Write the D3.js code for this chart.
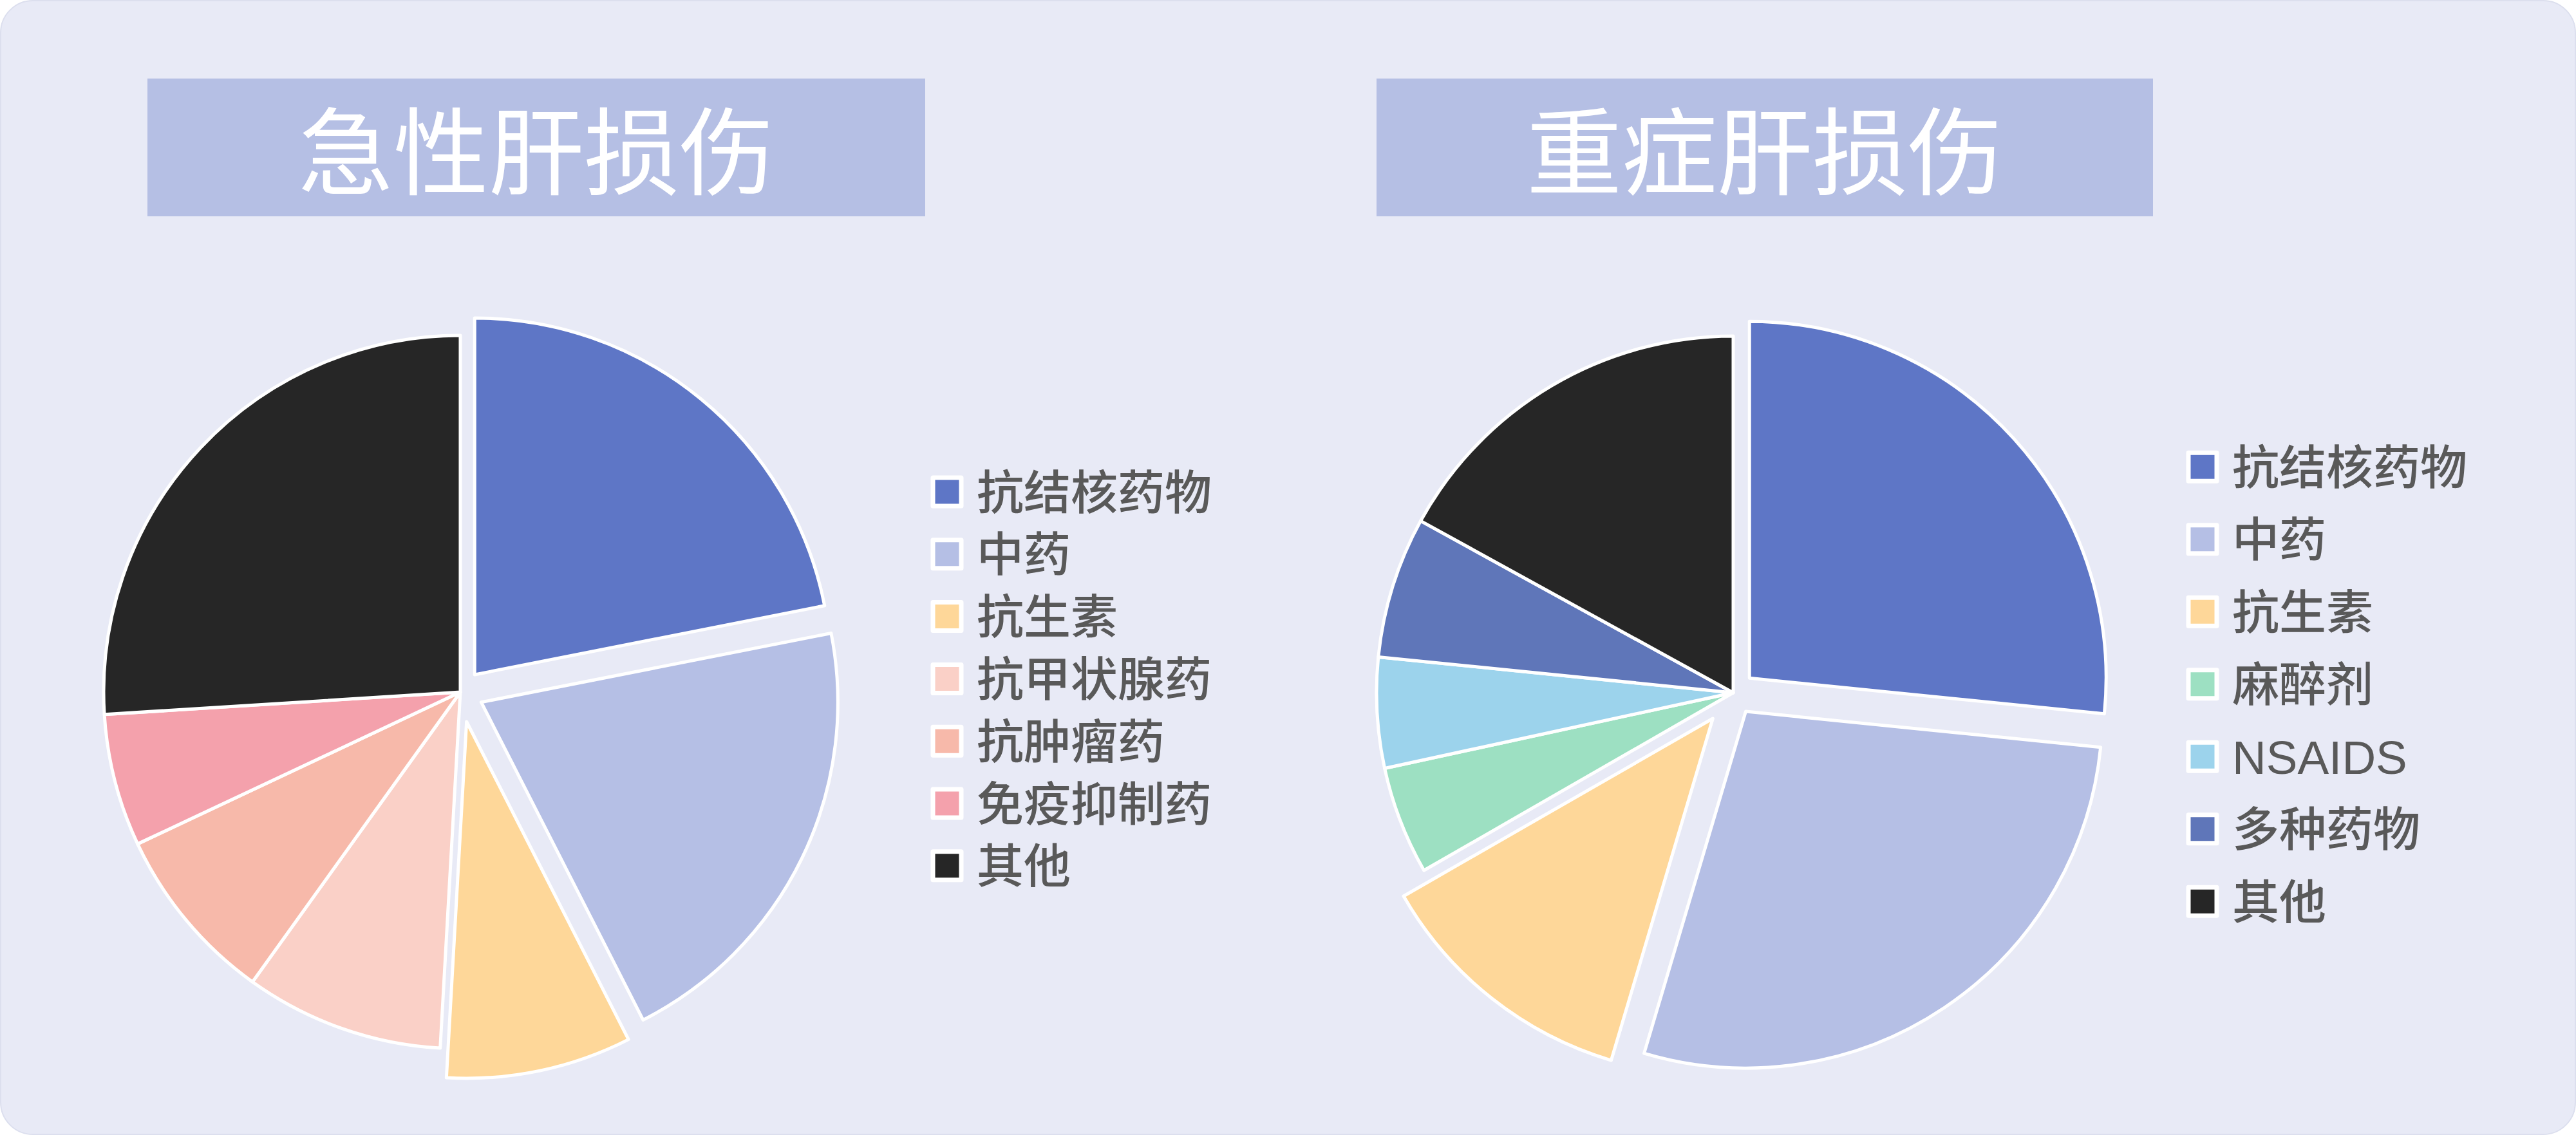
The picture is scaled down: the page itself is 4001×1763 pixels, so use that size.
<!DOCTYPE html>
<html>
<head>
<meta charset="utf-8">
<script src="https://cdn.jsdelivr.net/npm/d3@7"></script>
<style>
  html, body { margin: 0; padding: 0; background: #ffffff; }
  svg { display: block; }
</style>
</head>
<body>
<div id="chart"></div>
<script>
// values, in percent
const acuteTitle = '急性肝损伤'
const acuteCats = ['抗结核药物', '中药', '抗生素', '抗甲状腺药', '抗肿瘤药', '免疫抑制药', '其他']
const acuteVals = [21.9, 20.6, 8.4, 9.0, 8.1, 6.0, 26.0]

const severeTitle = '重症肝损伤'
const severeCats = ['抗结核药物', '中药', '抗生素', '麻醉剂', 'NSAIDS', '多种药物', '其他']
const severeVals = [26.6, 28.0, 12.1, 4.9, 5.0, 6.4, 17.0]

const acuteColors = ['#5e76c6', '#b5bfe5', '#fed799', '#fad0c7', '#f7b9aa', '#f4a1ac', '#262626']
const severeColors = ['#5e76c6', '#b5bfe5', '#fed799', '#9de0c2', '#9cd3ec', '#5f76b9', '#262626']

const w = 4001
const h = 1763
const R = 554

const svg = d3.select('#chart')
              .append('svg')
              .attr('width', w)
              .attr('height', h)

svg.append('rect')
   .attr('x', 1)
   .attr('y', 1)
   .attr('width', w - 2)
   .attr('height', h - 2)
   .attr('rx', 50)
   .attr('fill', '#e8eaf6')
   .attr('stroke', '#dcdfee')
   .attr('stroke-width', 2)

const panels = [
  { title: acuteTitle, cats: acuteCats, vals: acuteVals, colors: acuteColors,
    box: [229, 122, 1208, 214], cx: 715, cy: 1075, pull: [35, 36, 47, 0, 0, 0, 0],
    legX: 1449, legY: 764, legStep: 96.8 },
  { title: severeTitle, cats: severeCats, vals: severeVals, colors: severeColors,
    box: [2138, 122, 1206, 214], cx: 2692, cy: 1076, pull: [34, 35, 51, 0, 0, 0, 0],
    legX: 3399, legY: 725.3, legStep: 112.5 }
]

const pie = d3.pie().sort(null).value(d => d)
const arc = d3.arc().innerRadius(0).outerRadius(R)

panels.forEach(p => {
  const g = svg.append('g')

  // title box
  g.append('rect')
   .attr('x', p.box[0])
   .attr('y', p.box[1])
   .attr('width', p.box[2])
   .attr('height', p.box[3])
   .attr('fill', '#b5bfe4')

  g.append('text')
   .attr('x', p.box[0] + p.box[2] / 2)
   .attr('y', 226)
   .attr('text-anchor', 'middle')
   .attr('dominant-baseline', 'central')
   .attr('fill', '#ffffff')
   .style('font-family', '"Noto Sans CJK SC", sans-serif')
   .style('font-weight', 400)
   .style('font-size', '148px')
   .text(p.title)

  // pie
  const arcs = pie(p.vals)
  g.append('g')
   .attr('transform', 'translate(' + p.cx + ',' + p.cy + ')')
   .selectAll('path')
   .data(arcs)
   .enter()
   .append('path')
   .attr('d', arc)
   .attr('transform', (d, i) => {
     const mid = (d.startAngle + d.endAngle) / 2
     const dx = Math.sin(mid) * p.pull[i]
     const dy = -Math.cos(mid) * p.pull[i]
     return 'translate(' + dx + ',' + dy + ')'
   })
   .attr('fill', (d, i) => p.colors[i])
   .attr('stroke', '#ffffff')
   .attr('stroke-width', 5)
   .attr('stroke-linejoin', 'round')

  // legend
  const leg = g.append('g')
               .selectAll('g')
               .data(p.cats)
               .enter()
               .append('g')
               .attr('transform', (d, i) => 'translate(' + p.legX + ',' + (p.legY + i * p.legStep) + ')')

  leg.append('rect')
     .attr('x', 0)
     .attr('y', -22)
     .attr('width', 44)
     .attr('height', 44)
     .attr('fill', (d, i) => p.colors[i])
     .attr('stroke', '#ffffff')
     .attr('stroke-width', 7)
     .attr('stroke-linejoin', 'round')

  leg.append('text')
     .attr('x', 68)
     .attr('y', 1)
     .attr('dominant-baseline', 'central')
     .attr('fill', '#595959')
     .style('font-family', '"Liberation Sans", "Noto Sans CJK SC", sans-serif')
     .style('font-weight', 500)
     .style('font-size', '73px')
     .text(d => d)
})
</script>
</body>
</html>
